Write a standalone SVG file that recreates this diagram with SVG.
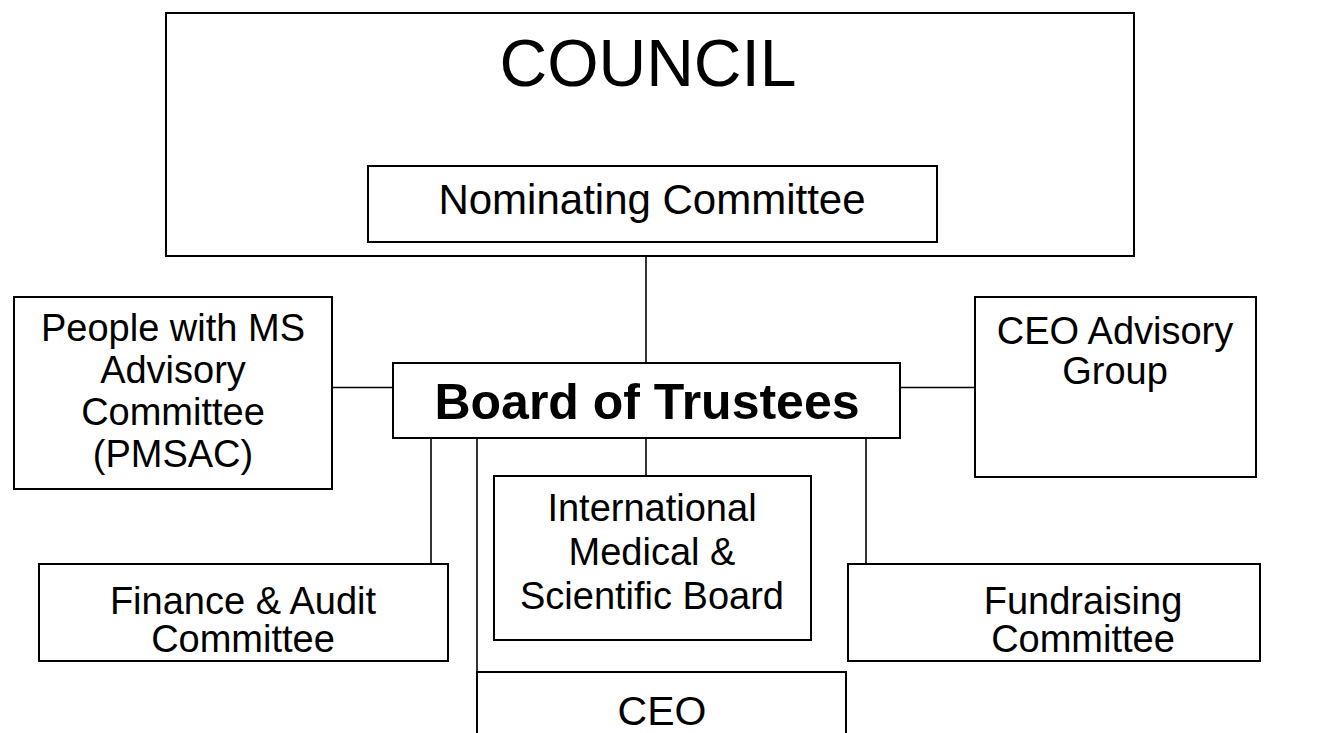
<svg xmlns="http://www.w3.org/2000/svg" width="1318" height="733" viewBox="0 0 1318 733">
<style>
.box{fill:#fff;stroke:#000;stroke-width:2}
.ln{stroke:#000;stroke-width:1.6;fill:none}
text{font-family:"Liberation Sans",Arial,sans-serif;fill:#000;text-anchor:middle}
.t{font-size:38px}
</style>
<rect width="1318" height="733" fill="#fff"/>
<g id="council">
<rect class="box" x="166" y="13" width="968" height="243"/>
<text x="648" y="86" style="font-size:66px">COUNCIL</text>
</g>
<g id="nominating">
<rect class="box" x="368" y="166" width="569" height="76"/>
<text x="652" y="214" style="font-size:42px">Nominating Committee</text>
</g>
<g id="connectors">
<line class="ln" x1="646" y1="256" x2="646" y2="363"/>
<line class="ln" x1="318" y1="387.5" x2="393" y2="387.5"/>
<line class="ln" x1="900" y1="387.5" x2="975" y2="387.5"/>
<line class="ln" x1="431" y1="438" x2="431" y2="564"/>
<line class="ln" x1="646" y1="438" x2="646" y2="476"/>
<line class="ln" x1="477" y1="438" x2="477" y2="672"/>
<line class="ln" x1="866" y1="438" x2="866" y2="564"/>
</g>
<g id="board">
<rect class="box" x="393" y="363" width="507" height="75"/>
<text x="647" y="419" style="font-size:50px;font-weight:bold">Board of Trustees</text>
</g>
<g id="pmsac">
<rect class="box" x="14" y="297" width="318" height="192"/>
<text class="t" x="173" y="341">People with MS</text>
<text class="t" x="173" y="383">Advisory</text>
<text class="t" x="173" y="425">Committee</text>
<text class="t" x="173" y="467">(PMSAC)</text>
</g>
<g id="ceo-advisory">
<rect class="box" x="975" y="297" width="281" height="180"/>
<text class="t" x="1115" y="344">CEO Advisory</text>
<text class="t" x="1115" y="384">Group</text>
</g>
<g id="imsb">
<rect class="box" x="494" y="476" width="317" height="164"/>
<text class="t" x="652" y="521">International</text>
<text class="t" x="652" y="565">Medical &amp;</text>
<text class="t" x="652" y="609">Scientific Board</text>
</g>
<g id="finance">
<rect class="box" x="39" y="564" width="409" height="97"/>
<text class="t" x="243" y="614">Finance &amp; Audit</text>
<text class="t" x="243" y="652">Committee</text>
</g>
<g id="fundraising">
<rect class="box" x="848" y="564" width="412" height="97"/>
<text class="t" x="1083" y="614">Fundraising</text>
<text class="t" x="1083" y="652">Committee</text>
</g>
<g id="ceo">
<rect class="box" x="477" y="672" width="369" height="90"/>
<text x="662" y="725" style="font-size:41px">CEO</text>
</g>
</svg>
